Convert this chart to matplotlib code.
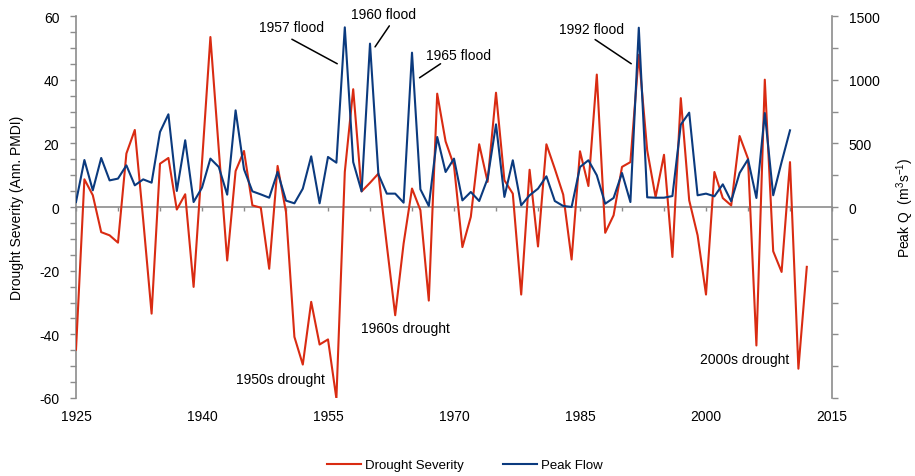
import matplotlib
matplotlib.use("Agg")
import matplotlib.pyplot as plt
from matplotlib.ticker import MultipleLocator, FixedLocator, FuncFormatter, NullFormatter

plt.rcParams['font.family'] = ['Liberation Sans', 'DejaVu Sans']
plt.rcParams['mathtext.fontset'] = 'custom'
plt.rcParams['mathtext.rm'] = 'Liberation Sans'
plt.rcParams['mathtext.it'] = 'Liberation Sans'
plt.rcParams['axes.unicode_minus'] = False

drought_years = list(range(1925, 2013))
drought = [-44.8, 8.7, 3.7, -7.9, -8.9, -11.2, 16.8, 24.2, -4.0, -33.5,
           13.6, 15.4, -0.8, 4.0, -25.1, 14.0, 53.4, 18.0, -16.8, 11.3,
           17.6, 0.5, -0.2, -19.4, 12.9, -1.6, -40.8, -49.5, -29.8, -43.2,
           -41.6, -60.2, 11.0, 37.0, 4.9, 7.6, 10.5, -12.0, -34.0, -11.5,
           5.8, -1.0, -29.4, 35.6, 20.6, 13.0, -12.6, -3.1, 19.7, 7.9,
           35.9, 8.4, 4.2, -27.5, 11.7, -12.4, 19.7, 12.0, 3.9, -16.5,
           17.5, 6.6, 41.6, -8.1, -2.6, 12.6, 14.1, 47.8, 17.8, 3.1,
           16.4, -15.7, 34.2, 2.1, -8.9, -27.5, 11.0, 2.8, 0.5, 22.3,
           15.2, -43.5, 40.0, -13.9, -20.4, 14.1, -50.8, -18.8]

flow_years = list(range(1925, 2011))
flow = [39, 369, 131, 385, 209, 223, 327, 170, 217, 191,
        589, 728, 126, 524, 39, 152, 380, 314, 97, 759,
        296, 123, 99, 73, 275, 50, 29, 144, 398, 29,
        393, 348, 1411, 353, 123, 1283, 257, 105, 105, 34,
        1212, 139, 8, 550, 275, 380, 52, 118, 47, 223,
        649, 79, 367, 13, 92, 144, 241, 47, 8, 0,
        314, 367, 249, 26, 71, 267, 39, 1408, 76, 73,
        73, 86, 647, 741, 92, 105, 84, 178, 45, 267,
        374, 71, 738, 92, 353, 602]

x_ticks = [1925, 1940, 1955, 1970, 1985, 2000, 2015]
left_ticks = [-60, -40, -20, 0, 20, 40, 60]
right_labels = [0, 500, 1000, 1500]

RED = '#D92B12'
BLUE = '#0B3A7E'
GRAY = '#8C8C8C'
FS = 10

fig = plt.figure(figsize=(9.15, 4.77), dpi=100)
ax = fig.add_axes([76/915, 1-399/477, 756/915, 382/477])
ax2 = ax.twinx()

l1, = ax.plot(drought_years, drought, color=RED, lw=1.5, label='Drought Severity', zorder=3)
l2, = ax2.plot(flow_years, flow, color=BLUE, lw=1.5, label='Peak Flow', zorder=3)

ax.set_xlim(1925, 2015)
ax.set_ylim(-60, 60)
ax2.set_ylim(-1500, 1500)

for a in (ax, ax2):
    a.spines['top'].set_visible(False)
ax2.spines['bottom'].set_visible(False)
ax.spines['right'].set_visible(False)
ax2.spines['left'].set_visible(False)
for s in (ax.spines['left'], ax2.spines['right'], ax.spines['bottom']):
    s.set_color(GRAY)
    s.set_linewidth(1.2)

# zero axis with small ticks every 5 years
ax.spines['bottom'].set_position(('data', 0))
ax.xaxis.set_major_locator(MultipleLocator(5))
ax.xaxis.set_major_formatter(NullFormatter())
ax.tick_params(axis='x', which='both', direction='out', length=3, width=1, color=GRAY)

# left axis
ax.yaxis.set_major_locator(FixedLocator(left_ticks))
ax.yaxis.set_minor_locator(MultipleLocator(5))
ax.tick_params(axis='y', which='both', direction='out', length=4, width=1, color=GRAY,
               labelsize=FS, pad=8)

# bottom year labels
sec = ax.secondary_xaxis('bottom')
for s in sec.spines.values():
    s.set_visible(False)
sec.xaxis.set_major_locator(FixedLocator(x_ticks))
sec.tick_params(axis='x', length=0, labelsize=FS, pad=8)

# right axis
ax2.yaxis.set_major_locator(MultipleLocator(250))
ax2.yaxis.set_major_formatter(FuncFormatter(lambda v, p: f"{int(round(v))}" if int(round(v)) in right_labels else ""))
ax2.tick_params(axis='y', which='both', direction='out', length=4, width=1, color=GRAY,
                labelsize=FS, pad=8)

ax.set_ylabel('Drought Severity (Ann. PMDI)', fontsize=FS)
ax.yaxis.set_label_coords(-0.069, 0.5)
ax2.set_ylabel('Peak Q  (m$^3$s$^{-1}$)', fontsize=FS)
ax2.yaxis.set_label_coords(1.082, 0.5)

ax2.set_zorder(ax.get_zorder() + 1)
ax2.patch.set_visible(False)

# annotations (left-axis data coordinates)
ann = dict(arrowprops=dict(arrowstyle='-', color='black', lw=1.1, shrinkA=0, shrinkB=0))
ax.text(1950.6, 56.4, '1957 flood', ha='center', va='center', fontsize=FS)
ax.annotate('', xy=(1956.1, 45.0), xytext=(1950.7, 52.7), **ann)
ax.text(1961.6, 60.7, '1960 flood', ha='center', va='center', fontsize=FS, clip_on=False)
ax.annotate('', xy=(1960.6, 50.3), xytext=(1962.3, 56.9), **ann)
ax.text(1970.5, 47.9, '1965 flood', ha='center', va='center', fontsize=FS)
ax.annotate('', xy=(1965.9, 40.6), xytext=(1968.4, 45.0), **ann)
ax.text(1986.4, 56.0, '1992 flood', ha='center', va='center', fontsize=FS)
ax.annotate('', xy=(1991.1, 45.0), xytext=(1986.8, 52.6), **ann)
ax.text(1949.3, -53.9, '1950s drought', ha='center', va='center', fontsize=FS)
ax.text(1964.2, -37.9, '1960s drought', ha='center', va='center', fontsize=FS)
ax.text(2004.6, -47.7, '2000s drought', ha='center', va='center', fontsize=FS)

fig.legend(handles=[l1, l2], loc='center', bbox_to_anchor=(0.508, 0.023), ncol=2,
           frameon=False, fontsize=9.5, handlelength=2.6, columnspacing=3.0, handletextpad=0.3)

fig.savefig('out.png', dpi=100)
